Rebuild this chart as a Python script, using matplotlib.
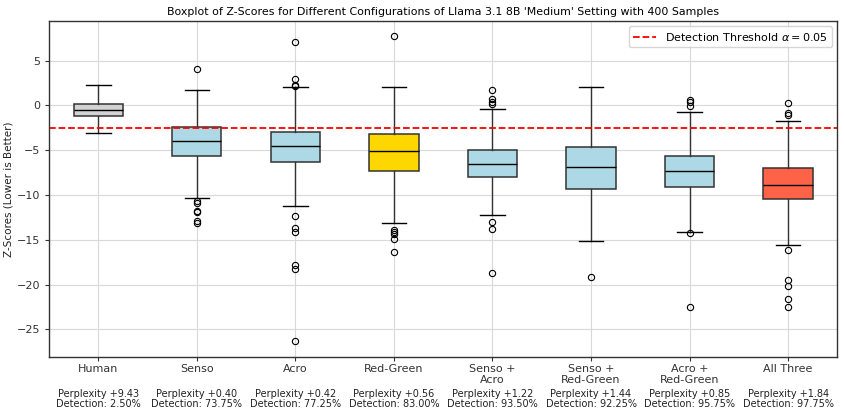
import matplotlib
matplotlib.use("Agg")
import matplotlib.pyplot as plt
from matplotlib.transforms import blended_transform_factory

# Values (five-number summaries + outliers)
configs = ["Human", "Senso", "Acro", "Red-Green", "Senso +\nAcro",
           "Senso +\nRed-Green", "Acro +\nRed-Green", "All Three"]
whis_lo = [-3.13, -10.31, -11.24, -13.17, -12.20, -15.18, -14.18, -15.63]
q1 = [-1.23, -5.62, -6.33, -7.37, -8.04, -9.31, -9.08, -10.49]
medians = [-0.56, -3.95, -4.58, -5.07, -6.55, -6.92, -7.37, -8.93]
q3 = [0.15, -2.42, -2.95, -3.24, -4.96, -4.69, -5.69, -7.00]
whis_hi = [2.23, 1.67, 2.04, 2.04, -0.38, 2.04, -0.78, -1.79]
outliers = [
    [],
    [4.02, -10.65, -10.85, -11.75, -11.95, -12.88, -13.10],
    [7.03, 2.90, 2.30, 2.15, -12.39, -13.66, -14.18, -17.82, -18.30, -26.34],
    [7.73, -13.92, -14.17, -14.30, -14.96, -16.37],
    [1.67, 0.70, 0.40, 0.11, -13.02, -13.80, -18.75],
    [-19.12],
    [0.65, 0.35, -0.05, -14.20, -22.50],
    [0.22, -0.82, -1.08, -16.15, -19.50, -20.17, -21.65, -22.54],
]
perplexity = [9.43, 0.40, 0.42, 0.56, 1.22, 1.44, 0.85, 1.84]
detection = [2.50, 73.75, 77.25, 83.00, 93.50, 92.25, 95.75, 97.75]
box_colors = ["lightgrey", "lightblue", "lightblue", "gold", "lightblue",
              "lightblue", "lightblue", "tomato"]
threshold = -2.57

stats = []
for i, name in enumerate(configs):
    stats.append(dict(label=name, whislo=whis_lo[i], q1=q1[i], med=medians[i],
                      q3=q3[i], whishi=whis_hi[i], fliers=outliers[i]))

fig, ax = plt.subplots(figsize=(8.45, 4.16), dpi=100)
fig.subplots_adjust(left=0.058, right=0.991, top=0.950, bottom=0.1425)

edge = "#333333"
bp = ax.bxp(stats, widths=0.5, patch_artist=True,
            boxprops=dict(edgecolor=edge, linewidth=1.1),
            medianprops=dict(color="black", linewidth=1.0),
            whiskerprops=dict(color=edge, linewidth=1.0),
            capprops=dict(color="black", linewidth=1.0),
            flierprops=dict(marker="o", markerfacecolor="none",
                            markeredgecolor="black", markersize=4.5,
                            markeredgewidth=0.8))
for patch, c in zip(bp["boxes"], box_colors):
    patch.set_facecolor(c)

ax.axhline(threshold, color="red", linestyle="--", linewidth=1.3,
           label=r"Detection Threshold $\alpha = 0.05$")

ax.set_axisbelow(True)
ax.grid(True, color="#d9d9d9", linewidth=0.8)
for s in ax.spines.values():
    s.set_color("#333333")
    s.set_linewidth(1.0)

ax.set_ylim(-28.05, 9.45)
ax.set_xlim(0.5, len(configs) + 0.5)
ax.set_yticks([5, 0, -5, -10, -15, -20, -25])
ax.tick_params(axis="both", labelsize=8, colors="#333333", length=3)
ax.tick_params(axis="x", pad=2)
ax.set_ylabel("Z-Scores (Lower is Better)", fontsize=7.5, color="#222222",
              labelpad=2)
ax.set_title("Boxplot of Z-Scores for Different Configurations of Llama 3.1 8B "
             "'Medium' Setting with 400 Samples", fontsize=7.9, pad=4)

# perplexity / detection notes under each category
trans = blended_transform_factory(ax.transData, ax.transAxes)
for i, (p, d) in enumerate(zip(perplexity, detection)):
    ax.text(i + 1, -0.125, f"Perplexity +{p:.2f}\nDetection: {d:.2f}%",
            transform=trans, ha="center", va="center", fontsize=7,
            color="#222222", linespacing=1.0)

ax.legend(loc="upper right", fontsize=8, frameon=True, borderaxespad=0.5,
          handlelength=2.0, fancybox=True)

fig.savefig("out.png", dpi=100)
